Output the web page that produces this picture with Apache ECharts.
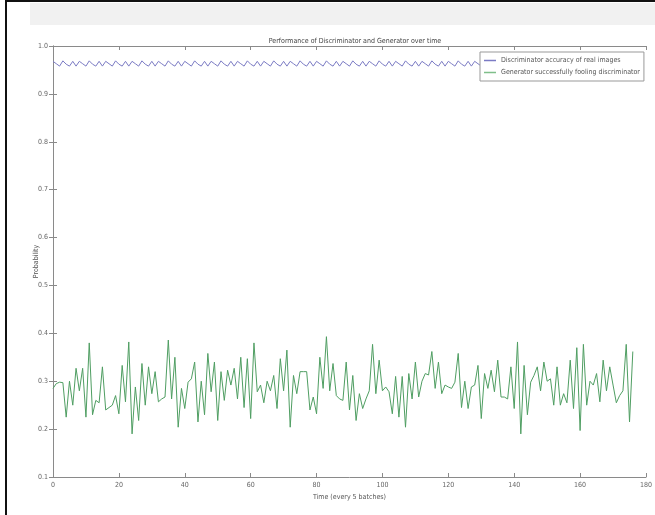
<!DOCTYPE html>
<html>
<head>
<meta charset="utf-8">
<script src="https://cdn.jsdelivr.net/npm/echarts@6/dist/echarts.min.js"></script>
<style>
html,body{margin:0;padding:0;background:#fff;}
#chart{width:655px;height:515px;}
</style>
</head>
<body>
<div id="chart"></div>
<script>
// 刻度
var xTicks = [0, 20, 40, 60, 80, 100, 120, 140, 160, 180];
var yTicks = [0.1, 0.2, 0.3, 0.4, 0.5, 0.6, 0.7, 0.8, 0.9, 1.0];

// 判别器准确率（真实图像）
var discAcc = [
	0.968,0.963,0.958,0.969,0.962,0.958,0.968,0.958,
	0.968,0.963,0.958,0.969,0.962,0.958,0.968,0.958,
	0.968,0.963,0.958,0.969,0.962,0.958,0.968,0.958,
	0.968,0.963,0.958,0.969,0.962,0.958,0.968,0.958,
	0.968,0.963,0.958,0.969,0.962,0.958,0.968,0.958,
	0.968,0.963,0.958,0.969,0.962,0.958,0.968,0.958,
	0.968,0.963,0.958,0.969,0.962,0.958,0.968,0.958,
	0.968,0.963,0.958,0.969,0.962,0.958,0.968,0.958,
	0.968,0.963,0.958,0.969,0.962,0.958,0.968,0.958,
	0.968,0.963,0.958,0.969,0.962,0.958,0.968,0.958,
	0.968,0.963,0.958,0.969,0.962,0.958,0.968,0.958,
	0.968,0.963,0.958,0.969,0.962,0.958,0.968,0.958,
	0.968,0.963,0.958,0.969,0.962,0.958,0.968,0.958,
	0.968,0.963,0.958,0.969,0.962,0.958,0.968,0.958,
	0.968,0.963,0.958,0.969,0.962,0.958,0.968,0.958,
	0.968,0.963,0.958,0.969,0.962,0.958,0.968,0.958,
	0.968,0.963,0.958,0.969,0.962,0.958,0.968,0.958,
	0.968,0.963,0.958,0.969,0.962,0.958,0.968,0.958,
	0.968,0.963,0.958,0.969,0.962,0.958,0.968,0.958,
	0.968,0.963,0.958,0.969,0.962,0.958,0.968,0.958,
	0.968,0.963,0.958,0.969,0.962,0.958,0.968,0.958,
	0.968,0.963,0.958,0.969,0.962,0.958,0.968,0.958,
	0.968
];

// 生成器成功骗过判别器
var genFool = [
	0.285,0.295,0.298,0.297,0.225,0.3,0.25,0.327,0.28,0.327,
	0.225,0.38,0.23,0.26,0.255,0.33,0.24,0.245,0.25,0.27,
	0.232,0.333,0.257,0.382,0.19,0.288,0.218,0.337,0.25,0.33,
	0.274,0.32,0.257,0.263,0.267,0.386,0.263,0.35,0.204,0.285,
	0.243,0.298,0.305,0.34,0.215,0.3,0.23,0.358,0.278,0.34,
	0.218,0.32,0.26,0.323,0.292,0.327,0.263,
	0.35,0.245,0.347,0.222,0.38,0.278,0.292,0.255,0.3,0.28,
	0.312,0.243,0.347,0.28,0.365,0.204,0.312,0.274,0.32,0.32,
	0.32,0.24,0.267,0.232,0.35,0.285,0.393,0.28,0.337,0.27,
	0.263,0.26,0.34,0.24,0.312,0.218,0.274,0.243,0.263,0.28,
	0.377,0.274,0.344,0.28,0.288,0.278,0.232,0.31,0.225,0.31,
	0.204,0.316,0.263,0.34,0.267,0.3,0.316,
	0.313,0.362,0.285,0.34,0.274,0.292,0.288,0.285,0.298,0.358,
	0.245,0.3,0.243,0.288,0.292,0.333,0.222,0.316,0.285,0.323,
	0.278,0.344,0.267,0.267,0.263,0.33,0.243,0.382,0.19,0.333,
	0.23,0.298,0.312,0.33,0.28,0.34,0.3,0.305,0.25,0.33,
	0.25,0.274,0.255,0.344,0.243,0.37,0.197,0.377,0.25,0.3,
	0.292,0.316,0.257,0.344,0.28,0.33,0.292,0.255,0.27,0.28,
	0.377,0.215,0.362
];

var seriesNames = ['Discriminator accuracy of real images', 'Generator successfully fooling discriminator'];

var font = '"DejaVu Sans Condensed","DejaVu Sans",sans-serif';

function toPairs(arr){
	var out = [];
	for(var i=0;i<arr.length;i++){ out.push([i, arr[i]]); }
	return out;
}

var myChart = echarts.init(document.getElementById('chart'));

var axisCommon = {
	axisLine:{show:true, lineStyle:{color:'#8a8a8a', width:1}},
	axisTick:{show:true, inside:true, length:4, lineStyle:{color:'#8a8a8a'}},
	splitLine:{show:false}
};

option = {
	animation:false,
	backgroundColor:'#fff',
	title:{
		text:'Performance of Discriminator and Generator over time',
		left:350,
		top:33,
		textAlign:'center',
		textStyle:{fontSize:7, fontWeight:'normal', color:'#444', fontFamily:font}
	},
	graphic:[
		{type:'rect', shape:{x:30, y:3, width:625, height:22}, style:{fill:'#f1f1f1'}, silent:true},
		{type:'rect', shape:{x:5, y:0, width:650, height:2}, style:{fill:'#111'}, silent:true},
		{type:'rect', shape:{x:5, y:0, width:2, height:515}, style:{fill:'#111'}, silent:true}
	],
	legend:{
		orient:'vertical',
		left:480,
		top:52,
		data:seriesNames,
		icon:'rect',
		itemWidth:12,
		itemHeight:1.5,
		itemGap:5,
		padding:[5,4,5,4],
		borderColor:'#999',
		borderWidth:1,
		backgroundColor:'#fff',
		textStyle:{fontSize:7, color:'#555', fontFamily:font}
	},
	grid:{left:53, right:8, top:46, bottom:38, containLabel:false}
};

option.xAxis = [
	echarts.util.merge({
		type:'value', min:0, max:180, interval:20, position:'bottom',
		name:'Time (every 5 batches)', nameLocation:'middle', nameGap:17,
		nameTextStyle:{fontSize:7, color:'#555', fontFamily:font},
		axisLabel:{fontSize:7, color:'#666', margin:5, fontFamily:font,
			formatter:function(v){ return xTicks.indexOf(v) >= 0 ? String(v) : ''; }}
	}, axisCommon, true),
	echarts.util.merge({
		type:'value', min:0, max:180, interval:20, position:'top',
		axisLabel:{show:false}
	}, axisCommon, true)
];

option.yAxis = [
	echarts.util.merge({
		type:'value', min:0.1, max:1.0, interval:0.1, position:'left',
		name:'Probability', nameLocation:'middle', nameGap:13, nameMoveOverlap:false,
		nameTextStyle:{fontSize:7, color:'#555', fontFamily:font},
		axisLabel:{fontSize:7, color:'#666', margin:5, fontFamily:font,
			formatter:function(v){ return v.toFixed(1); }}
	}, axisCommon, true),
	echarts.util.merge({
		type:'value', min:0.1, max:1.0, interval:0.1, position:'right',
		axisLabel:{show:false}
	}, axisCommon, true)
];

option.series = [
	{
		name:seriesNames[0],
		type:'line',
		xAxisIndex:0, yAxisIndex:0,
		showSymbol:false, symbol:'none',
		lineStyle:{width:1, color:'#7b7bc4'},
		itemStyle:{color:'#7b7bc4'},
		data:toPairs(discAcc),
		z:2
	},
	{
		name:seriesNames[1],
		type:'line',
		xAxisIndex:0, yAxisIndex:0,
		showSymbol:false, symbol:'none',
		lineStyle:{width:1, color:'#4f9e62'},
		itemStyle:{color:'#7fbf8a'},
		data:toPairs(genFool),
		z:2
	}
];

myChart.setOption(option);
</script>
</body>
</html>
